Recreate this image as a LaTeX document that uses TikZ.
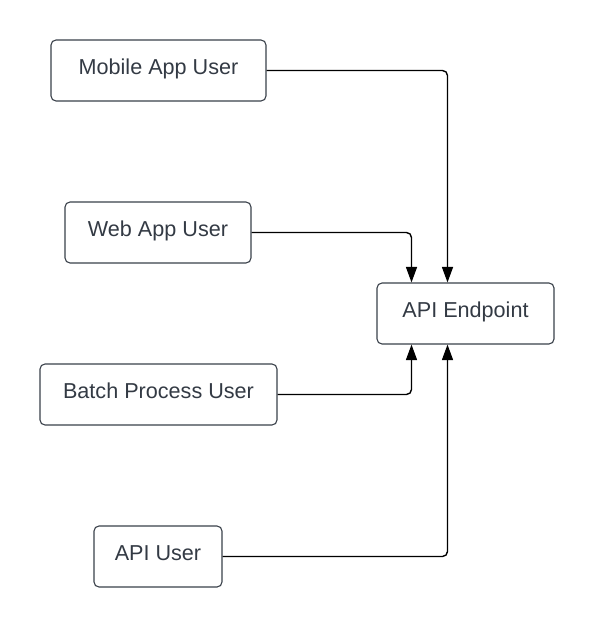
\documentclass[tikz,border=0pt]{standalone}
\usepackage{fontspec}
\setmainfont{Liberation Sans}
\usetikzlibrary{arrows.meta}
\definecolor{boxline}{HTML}{3A414A}
\definecolor{txt}{HTML}{333A44}
\begin{document}
\begin{tikzpicture}[x=1pt,y=-1pt,
  box/.style={draw=boxline,line width=1.1pt,rounded corners=5pt,fill=white,text=txt,font=\fontsize{21.6}{25}\selectfont,inner sep=0pt,text height=10pt,text depth=1.4pt},
  conn/.style={draw=black,line width=1.4pt,rounded corners=5pt,-{Triangle[length=15.5pt,width=11pt]}}]
\fill[white] (0,0) rectangle (595,628);
\useasboundingbox (0,0) rectangle (595,628);
\node[box,minimum width=215pt,minimum height=61pt] (mob) at (158.5,70.5) {Mobile App User};
\node[box,minimum width=186pt,minimum height=61pt] (web) at (158,232.5) {Web App User};
\node[box,minimum width=237pt,minimum height=61pt] (bat) at (158.5,394.5) {Batch Process User};
\node[box,minimum width=128pt,minimum height=61pt] (api) at (158,556.5) {API User};
\node[box,minimum width=177pt,minimum height=61pt] (end) at (465.5,313.5) {API Endpoint};
\coordinate (eL) at (411.5,0);
\coordinate (eR) at (447.5,0);
\draw[conn] (mob.east) -| (eR |- end.north);
\draw[conn] (web.east) -| (eL |- end.north);
\draw[conn] (bat.east) -| (eL |- end.south);
\draw[conn] (api.east) -| (eR |- end.south);
\end{tikzpicture}
\end{document}
